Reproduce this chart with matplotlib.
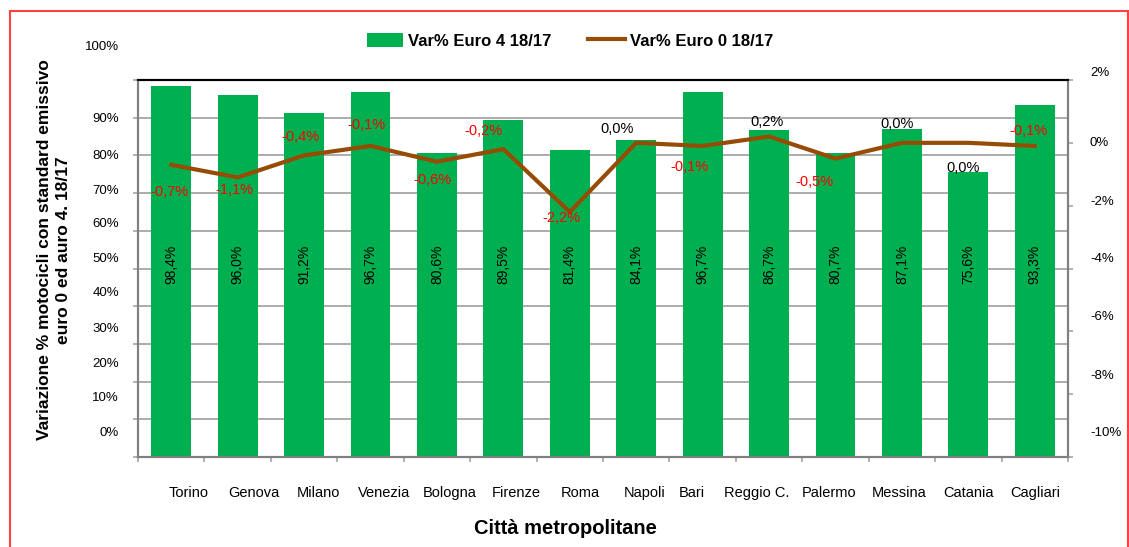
import matplotlib
matplotlib.use("Agg")
import matplotlib.pyplot as plt
from matplotlib.lines import Line2D
from matplotlib.patches import Patch, Rectangle
import numpy as np

# ---------------------------------------------------------------------------
# Data
# ---------------------------------------------------------------------------
cities = ["Torino", "Genova", "Milano", "Venezia", "Bologna", "Firenze", "Roma",
          "Napoli", "Bari", "Reggio C.", "Palermo", "Messina", "Catania", "Cagliari"]
euro4 = [98.4, 96.0, 91.2, 96.7, 80.6, 89.5, 81.4, 84.1, 96.7, 86.7, 80.7, 87.1, 75.6, 93.3]
euro0 = [-0.7, -1.1, -0.4, -0.1, -0.6, -0.2, -2.2, 0.0, -0.1, 0.2, -0.5, 0.0, 0.0, -0.1]

left_labels = ["0%", "10%", "20%", "30%", "40%", "50%", "60%", "70%", "80%", "90%", "100%"]
right_labels = ["-10%", "-8%", "-6%", "-4%", "-2%", "0%", "2%"]

legend_bar = "Var% Euro 4 18/17"
legend_line = "Var% Euro 0 18/17"
ylabel = "Variazione % motocicli con standard emissivo\neuro 0 ed auro 4. 18/17"
xlabel = "Città metropolitane"

# ---------------------------------------------------------------------------
# Layout (pixels in the 1129x547 picture)
# ---------------------------------------------------------------------------
W, H = 1129, 547
AX_L, AX_R, AX_T, AX_B = 138, 1068, 80, 457
# where the Excel-style tick labels sit (they do not line up with the grid)
left_label_px = [433, 398, 364, 329, 293, 259, 224, 191, 156, 119, 47]
right_label_px = [433, 376, 317, 259, 202, 143, 73]
LEFT_LABEL_X, RIGHT_LABEL_X = 119, 1090
# horizontal shift of each city label from its bar centre
city_shift_px = [17, 16, 14, 14, 13, 13, 11, 8, -11, -12, -6, -3, 0, 0]
# position of each line data label relative to its point (pixels, up = +)
line_lbl_dx = [-2, -3, -4, -4, -4, -20, -8, -19, -13, -2, -21, -5, -5, -6]
line_lbl_dy = [-27, -13, 18, 21, -18, 18, -6, 14, -21, 15, -23, 19, -25, 15]

GREEN = "#00B050"
BROWN = "#974C06"
GRID = "#A6A6A6"
FONT = ["Liberation Sans", "DejaVu Sans"]

plt.rcParams["font.family"] = FONT

fig = plt.figure(figsize=(W / 100, H / 100), dpi=100)
ax = fig.add_axes([AX_L / W, 1 - AX_B / H, (AX_R - AX_L) / W, (AX_B - AX_T) / H])
ax2 = ax.twinx()

x = np.arange(len(cities))
ax_w = AX_R - AX_L
ax_h = AX_B - AX_T

# bars
ax.bar(x, euro4, width=0.6, color=GREEN, zorder=2)
for xi, v in zip(x, euro4):
    ax.text(xi, 51, f"{v:.1f}%".replace(".", ","), rotation=90, ha="center",
            va="center", fontsize=10, color="black", zorder=3)

# left axis: grid + tick marks every 10%, labels drawn where Excel put them
ax.set_yticks(np.arange(0, 101, 10))
ax.set_yticklabels([])
ax.tick_params(axis="y", length=3.6, width=1.2, color=GRID)
ax.grid(axis="y", color=GRID, linewidth=1.3)
ax.set_axisbelow(True)
for lbl, p in zip(left_labels, left_label_px):
    ax.text((LEFT_LABEL_X - AX_L) / ax_w, (AX_B - p) / ax_h, lbl,
            transform=ax.transAxes, ha="right", va="center", fontsize=9.5,
            clip_on=False)

dx_unit = len(cities) / ax_w
ax.set_xticks(x + np.array(city_shift_px) * dx_unit)
ax.set_xticklabels(cities, fontsize=10.5)
ax.set_xticks(np.arange(-0.5, len(cities)), minor=True)
ax.tick_params(axis="x", which="major", length=0, pad=21)
ax.tick_params(axis="x", which="minor", length=3.6, width=1.2, color=GRID)
ax.set_xlim(-0.5, len(cities) - 0.5)
ax.set_ylim(0, 100)

# line on secondary axis
ax2.plot(x, euro0, color=BROWN, linewidth=3, solid_joinstyle="miter", zorder=4)
ax2.set_yticks(np.arange(-10, 2.1, 2))
ax2.set_yticklabels([])
ax2.tick_params(axis="y", length=3.6, width=1.2, color=GRID)
ax2.set_ylim(-10, 2)
for lbl, p in zip(right_labels, right_label_px):
    ax2.text((RIGHT_LABEL_X - AX_L) / ax_w, (AX_B - p) / ax_h, lbl,
             transform=ax2.transAxes, ha="left", va="center", fontsize=9.5,
             clip_on=False)

for xi, v, dx, dy in zip(x, euro0, line_lbl_dx, line_lbl_dy):
    ax2.annotate(f"{v:.1f}%".replace(".", ","), (xi, v), xytext=(dx, dy),
                 textcoords="offset pixels", ha="center", va="center",
                 fontsize=10.5, color="red" if v < 0 else "black", zorder=5)

for a in (ax, ax2):
    for side in ("left", "right", "bottom"):
        a.spines[side].set_color("#808080")
        a.spines[side].set_linewidth(1.5)
    a.spines["top"].set_color("black")
    a.spines["top"].set_linewidth(1.5)

# axis titles
fig.text(54 / W, 1 - 250 / H, ylabel, rotation=90, ha="center", va="center",
         fontsize=12.5, fontweight="bold", linespacing=1.3, multialignment="center")
fig.text(565 / W, 1 - 528 / H, xlabel, ha="center", va="center",
         fontsize=14.5, fontweight="bold")

# legend
handles = [Patch(facecolor=GREEN, edgecolor="none"),
           Line2D([0], [0], color=BROWN, linewidth=3)]
fig.legend(handles, [legend_bar, legend_line], loc="center", ncol=2,
           bbox_to_anchor=(570 / W, 1 - 41 / H), frameon=False,
           prop={"size": 12, "weight": "bold"}, handlelength=2.2,
           handleheight=0.9, handletextpad=0.3, columnspacing=2.2)

# red outer frame
fig.patches.append(Rectangle((10 / W, -0.1), (1128 - 10) / W, 1.1 - 11 / H,
                             transform=fig.transFigure, fill=False,
                             edgecolor="#FF4040", linewidth=1.5))

fig.savefig("out.png", dpi=100)
